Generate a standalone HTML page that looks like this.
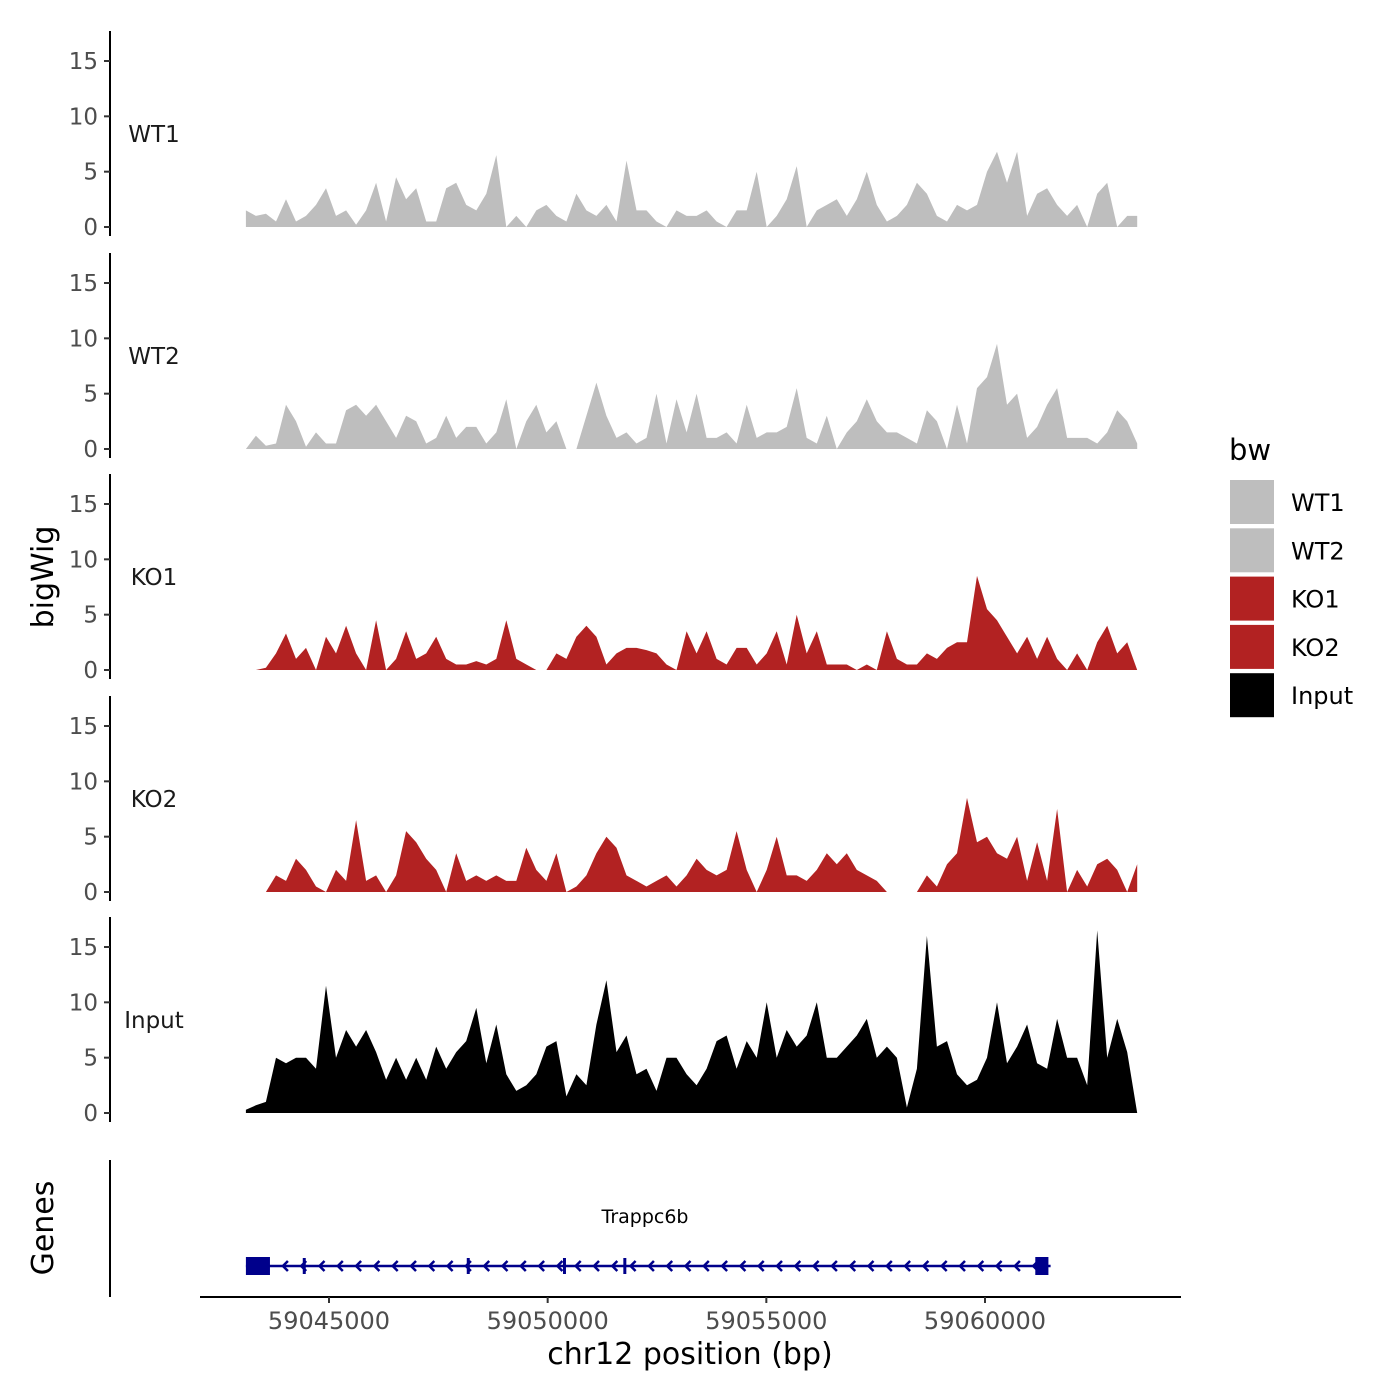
<!DOCTYPE html>
<html><head><meta charset="utf-8"><style>
html,body{margin:0;padding:0;background:#fff}
svg{display:block;font-family:"DejaVu Sans","Liberation Sans",sans-serif}
</style></head><body>
<svg id="chart" width="1400" height="1400" viewBox="0 0 1400 1400"></svg>
<script>
const NS="http://www.w3.org/2000/svg";
const svg=document.getElementById('chart');
// ---- data ----
const binStart=59043100;
const binStep=229;
const trackNames=["WT1","WT2","KO1","KO2","Input"];
const trackColors=["#bebebe","#bebebe","#b22222","#b22222","#000000"];
const wt1=[1.5,1,1.2,0.5,2.5,0.5,1,2,3.5,1,1.5,0.2,1.5,4,0.5,4.5,2.5,3.5,0.5,0.5,3.5,4,2,1.5,3,6.5,0,1,0,1.5,2,1,0.5,3,1.5,1,2,0.5,6,1.5,1.5,0.5,0,1.5,1,1,1.5,0.5,0,1.5,1.5,5,0,1,2.5,5.5,0,1.5,2,2.5,1,2.5,5,2,0.5,1,2,4,3,1,0.5,2,1.5,2,5,6.8,4,6.8,1,3,3.5,2,1,2,0,3,4,0,1,1];
const wt2=[0,1.2,0.3,0.5,4,2.5,0.2,1.5,0.5,0.5,3.5,4,3,4,2.5,1,3,2.5,0.5,1,3,1,2,2,0.5,1.5,4.5,0,2.5,4,1.5,2.5,0,0,3,6,3,1,1.5,0.5,1,5,0.5,4.5,1.5,5,1,1,1.5,0.5,4,1,1.5,1.5,2,5.5,1,0.5,3,0,1.5,2.5,4.5,2.5,1.5,1.5,1,0.5,3.5,2.5,0,4,0.5,5.5,6.5,9.5,4,5,1,2,4,5.5,1,1,1,0.5,1.5,3.5,2.5,0.5];
const ko1=[0,0,0.2,1.5,3.3,1,2,0,3,1.5,4,1.5,0,4.5,0,1,3.5,1,1.5,3,1,0.5,0.5,0.8,0.5,1,4.5,1,0.5,0,0,1.5,1,3,4,3,0.5,1.5,2,2,1.8,1.5,0.5,0,3.5,1.5,3.5,1,0.5,2,2,0.5,1.5,3.5,0.5,5,1.5,3.5,0.5,0.5,0.5,0,0.5,0,3.5,1,0.5,0.5,1.5,1,2,2.5,2.5,8.5,5.5,4.5,3,1.5,3,1,3,1,0,1.5,0,2.5,4,1.5,2.5,0];
const ko2=[0,0,0,1.5,1,3,2,0.5,0,2,1,6.5,1,1.5,0,1.5,5.5,4.5,3,2,0,3.5,1,1.5,1,1.5,1,1,4,2,1,3.5,0,0.5,1.5,3.5,5,4,1.5,1,0.5,1,1.5,0.5,1.5,3,2,1.5,2,5.5,2,0,2,5,1.5,1.5,1,2,3.5,2.5,3.5,2,1.5,1,0,0,0,0,1.5,0.5,2.5,3.5,8.5,4.5,5,3.5,3,5,1,4.5,1,7.5,0,2,0.5,2.5,3,2,0,2.5];
const input=[0.3,0.7,1,5,4.5,5,5,4,11.5,5,7.5,6,7.5,5.5,3,5,3,5,3,6,4,5.5,6.5,9.5,4.5,8,3.5,2,2.5,3.5,6,6.5,1.5,3.5,2.5,8,12,5.5,7,3.5,4,2,5,5,3.5,2.5,4,6.5,7,4,6.5,5,10,5,7.5,6,7,10,5,5,6,7,8.5,5,6,5,0.5,4,16,6,6.5,3.5,2.5,3,5,10,4.5,6,8,4.5,4,8.5,5,5,2.5,16.5,5,8.5,5.5,0];
const seriesValues=[wt1,wt2,ko1,ko2,input];
const yTicks=[0,5,10,15];
const xTicks=[59045000,59050000,59055000,59060000];
const geneName="Trappc6b";
const geneStart=59043100, geneEnd=59061500;
const exons=[[59043100,59043650],[59044400,59044460],[59048150,59048210],[59050350,59050410],[59051730,59051790],[59061150,59061450]];
// ---- scales ----
const xS=bp=>329+(bp-59045000)*656/15000;
const panelZero=[227,449,670,892,1113];
const ySc=(i,v)=>panelZero[i]-v*166/15;
function el(tag,attrs,name,inter,parent){const e=document.createElementNS(NS,tag);for(const k in attrs)e.setAttribute(k,attrs[k]);


(parent||svg).appendChild(e);return e;}
function txt(s,attrs,name){const t=el('text',attrs,name,false);t.textContent=s;return t;}
trackNames.forEach((nm,i)=>{
  const g=el('g',{},'panel-'+nm.toLowerCase(),false);
  el('line',{x1:110,x2:110,y1:panelZero[i]-196,y2:panelZero[i]+9,stroke:'#000','stroke-width':2},'y-axis-line',false,g);
  yTicks.forEach(t=>{const y=ySc(i,t);
    el('line',{x1:104,x2:110,y1:y,y2:y,stroke:'#333','stroke-width':2},'y-tick',false,g);
    const tt=el('text',{x:98,y:y+8,'text-anchor':'end','font-size':23,fill:'#4d4d4d'},'y-tick-label',false,g);tt.textContent=t;});
  const vals=seriesValues[i];
  let d='M'+xS(binStart)+','+ySc(i,0);
  vals.forEach((v,k)=>{d+=' L'+xS(binStart+k*binStep).toFixed(1)+','+ySc(i,v).toFixed(1);});
  d+=' L'+xS(binStart+(vals.length-1)*binStep).toFixed(1)+','+ySc(i,0)+' Z';
  el('path',{d:d,fill:trackColors[i]},'area-'+nm.toLowerCase(),false,g);
  const lab=el('text',{x:154,y:panelZero[i]-85,'text-anchor':'middle','font-size':23,fill:'#1a1a1a'},'strip-label',false,g);lab.textContent=nm;
});
txt('bigWig',{x:0,y:0,transform:'translate(53,577) rotate(-90)','text-anchor':'middle','font-size':30,fill:'#000'},'y-axis-title');
txt('Genes',{x:0,y:0,transform:'translate(53,1228) rotate(-90)','text-anchor':'middle','font-size':30,fill:'#000'},'genes-axis-title');
el('line',{x1:110,x2:110,y1:1160,y2:1297,stroke:'#000','stroke-width':2},'genes-y-axis-line',false);
el('line',{x1:200,x2:1181,y1:1297,y2:1297,stroke:'#000','stroke-width':2},'x-axis-line',false);
xTicks.forEach(t=>{const x=xS(t);
  el('line',{x1:x,x2:x,y1:1297,y2:1303,stroke:'#333','stroke-width':2},'x-tick',false);
  txt(String(t),{x:x,y:1329,'text-anchor':'middle','font-size':24,fill:'#4d4d4d'},'x-tick-label');});
txt('chr12 position (bp)',{x:690,y:1364,'text-anchor':'middle','font-size':30,fill:'#000'},'x-axis-title');
const gg=el('g',{},'gene-model',false);
el('line',{x1:xS(geneStart),x2:xS(geneEnd),y1:1266,y2:1266,stroke:'#00008b','stroke-width':2.5},'gene-line',false,gg);
for(let x=xS(geneStart)+38;x<xS(geneEnd)-5;x+=18.3){
  el('path',{d:`M${x+4},${1261} L${x-1},${1266} L${x+4},${1271}`,fill:'none',stroke:'#00008b','stroke-width':2.5},'strand-arrow',false,gg);}
exons.forEach(e=>{const x1=xS(e[0]),x2=xS(e[1]);const big=(x2-x1)>8;
  el('rect',{x:x1,y:big?1257:1258,width:Math.max(3,x2-x1),height:big?18:16,fill:'#00008b'},'exon',false,gg);});
txt(geneName,{x:645,y:1223,'text-anchor':'middle','font-size':19,fill:'#000'},'gene-label');
txt('bw',{x:1229,y:460,'font-size':29,fill:'#000'},'legend-title');
trackNames.forEach((nm,i)=>{const y=480+i*48.3;
  el('rect',{x:1230,y:y,width:44,height:44,fill:trackColors[i]},'legend-key-'+nm.toLowerCase(),false);
  txt(nm,{x:1291,y:y+31,'font-size':24,fill:'#000'},'legend-entry-'+nm.toLowerCase());});
</script>
</body></html>
